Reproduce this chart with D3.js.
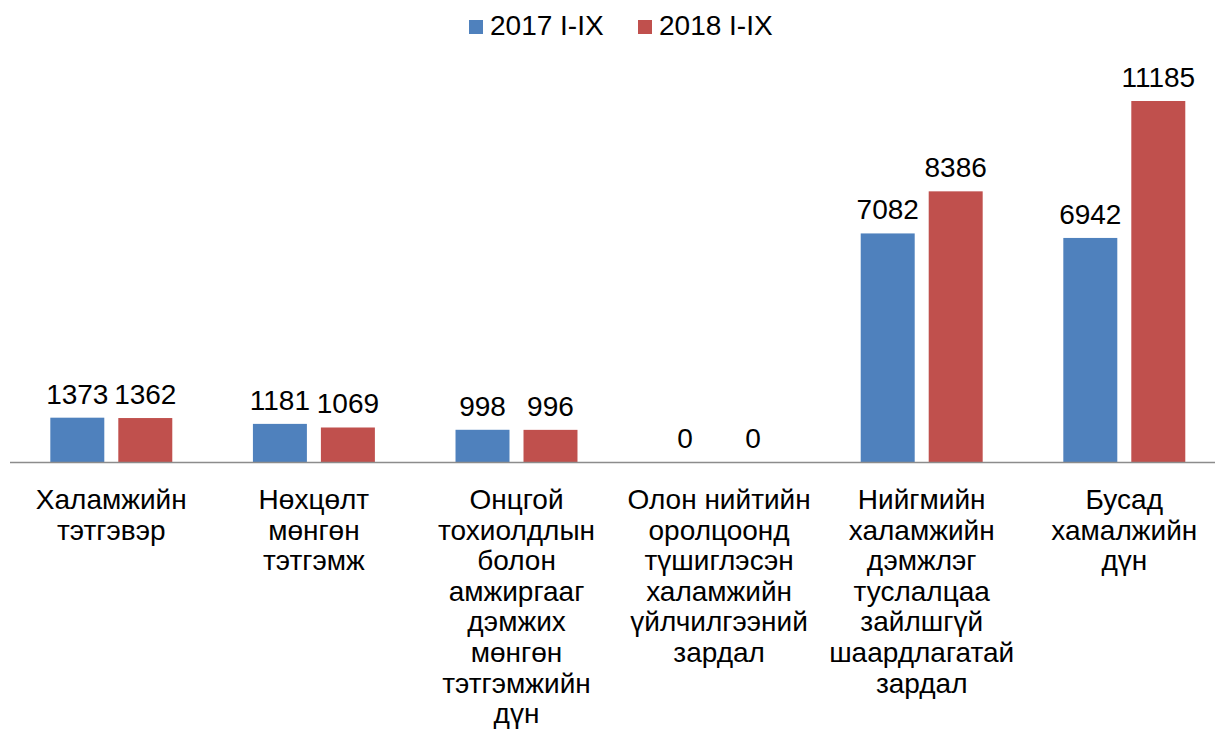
<!DOCTYPE html>
<html>
<head>
<meta charset="utf-8">
<script src="https://cdn.jsdelivr.net/npm/d3@7"></script>
<style>
  html, body { margin: 0; padding: 0; background: #fff; }
  svg { display: block; font-family: "Liberation Sans", Arial, sans-serif; }
</style>
</head>
<body>
<svg id="chart" width="1215" height="733"></svg>
<script>
// --- Data ---
const categories = ["c1", "c2", "c3", "c4", "c5", "c6"];
const categoryLabels = [
  ["Халамжийн", "тэтгэвэр"],
  ["Нөхцөлт", "мөнгөн", "тэтгэмж"],
  ["Онцгой", "тохиолдлын", "болон", "амжиргааг", "дэмжих", "мөнгөн", "тэтгэмжийн", "дүн"],
  ["Олон нийтийн", "оролцоонд", "түшиглэсэн", "халамжийн", "үйлчилгээний", "зардал"],
  ["Нийгмийн", "халамжийн", "дэмжлэг", "туслалцаа", "зайлшгүй", "шаардлагатай", "зардал"],
  ["Бусад", "хамалжийн", "дүн"]
];
const seriesNames = ["2017 I-IX", "2018 I-IX"];
const values2017 = [1373, 1181, 998, 0, 7082, 6942];
const values2018 = [1362, 1069, 996, 0, 8386, 11185];
const seriesColors = ["#4F81BD", "#C0504D"];

const svg = d3.select("#chart");
const width = +svg.attr("width");
const height = +svg.attr("height");

const baseY = 462;
const fontSize = 28;

// --- Scales ---
const x0 = d3.scaleBand()
  .domain(categories)
  .range([10, 1225.6])
  .padding(0);

const x1 = d3.scaleBand()
  .domain(seriesNames)
  .range([0, x0.bandwidth()])
  .paddingInner(0.206)
  .paddingOuter(0.593);

const y = d3.scaleLinear()
  .domain([0, 12000])
  .range([baseY, 74.7]);

const color = d3.scaleOrdinal().domain(seriesNames).range(seriesColors);

const rows = categories.map((c, i) => ({
  cat: c,
  vals: [
    { s: seriesNames[0], v: values2017[i] },
    { s: seriesNames[1], v: values2018[i] }
  ]
}));

// --- Bars ---
const groups = svg.append("g").selectAll("g")
  .data(rows)
  .join("g")
  .attr("transform", d => `translate(${x0(d.cat)},0)`);

groups.selectAll("rect")
  .data(d => d.vals)
  .join("rect")
  .attr("x", d => x1(d.s))
  .attr("y", d => y(d.v))
  .attr("width", x1.bandwidth())
  .attr("height", d => baseY - y(d.v))
  .attr("fill", d => color(d.s));

// --- Value labels ---
groups.selectAll("text")
  .data(d => d.vals)
  .join("text")
  .attr("x", d => x1(d.s) + x1.bandwidth() / 2)
  .attr("y", d => y(d.v) - 14)
  .attr("text-anchor", "middle")
  .attr("font-size", fontSize)
  .attr("fill", "#000")
  .text(d => d.v);

// --- Axis line ---
svg.append("line")
  .attr("x1", x0.range()[0])
  .attr("x2", width)
  .attr("y1", baseY + 0.5)
  .attr("y2", baseY + 0.5)
  .attr("stroke", "#8c8c8c")
  .attr("stroke-width", 1.5);

// --- Category labels ---
const catText = svg.append("g").selectAll("text")
  .data(categories)
  .join("text")
  .attr("text-anchor", "middle")
  .attr("font-size", fontSize)
  .attr("fill", "#000");

catText.selectAll("tspan")
  .data((d, i) => categoryLabels[i].map(t => ({ t, cat: d })))
  .join("tspan")
  .attr("x", d => x0(d.cat) + x0.bandwidth() / 2)
  .attr("y", (d, j) => 509 + j * 30.6)
  .text(d => d.t);

// --- Legend ---
const legend = svg.append("g");
const legendX = [469, 638];
const items = legend.selectAll("g")
  .data(seriesNames)
  .join("g")
  .attr("transform", (d, i) => `translate(${legendX[i]}, 20)`);

items.append("rect")
  .attr("width", 14)
  .attr("height", 14)
  .attr("fill", d => color(d));

items.append("text")
  .attr("x", 21)
  .attr("y", 15)
  .attr("font-size", fontSize)
  .attr("fill", "#000")
  .text(d => d);
</script>
</body>
</html>
